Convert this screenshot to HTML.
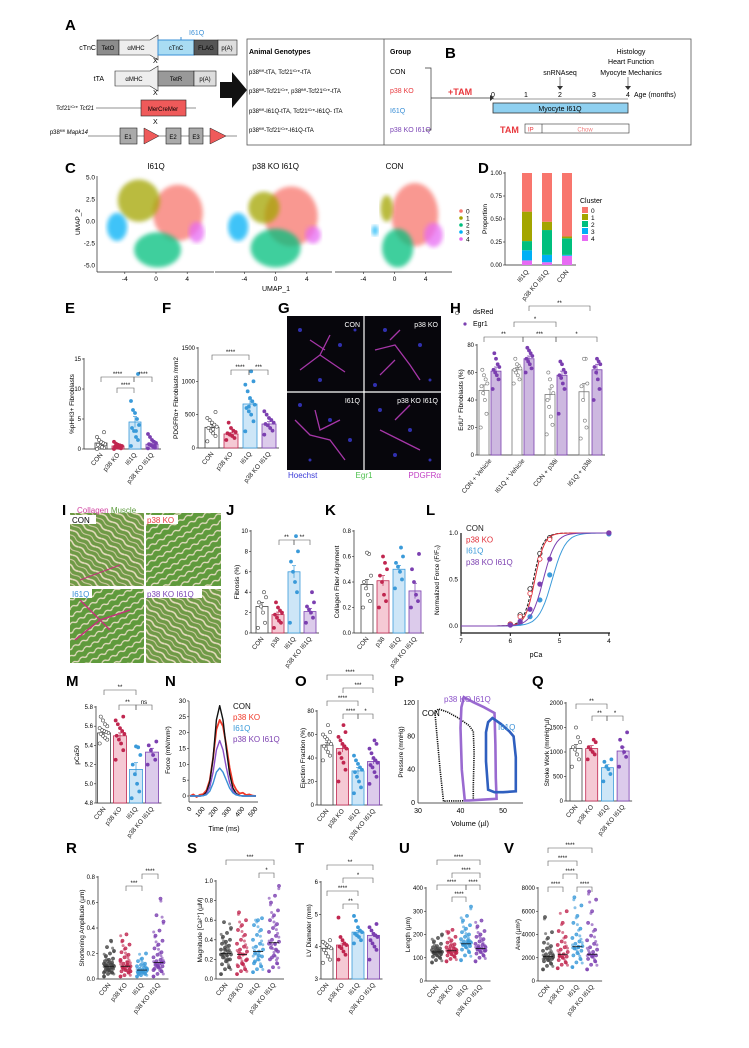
<!DOCTYPE html>
<html><head><meta charset="utf-8"><style>
html,body{margin:0;padding:0;background:#fff}
svg{display:block;font-family:"Liberation Sans",sans-serif}
.pl{font-weight:bold;font-size:15px}
.t{font-size:7px}
.s{font-size:6px}
</style></head><body>
<svg id="fig" width="749" height="1048" viewBox="0 0 749 1048">
<defs>
<pattern id="musc" width="14" height="10" patternUnits="userSpaceOnUse" patternTransform="rotate(35)">
<rect width="14" height="10" fill="#6f9a46"/><path d="M0 3 Q4 1 7 3 T14 3" stroke="#e8dcc0" stroke-width="1.6" fill="none"/><path d="M0 8 Q4 6 7 8 T14 8" stroke="#d9cfae" stroke-width="1" fill="none"/></pattern>
<pattern id="musc2" width="9" height="7" patternUnits="userSpaceOnUse" patternTransform="rotate(-30)">
<rect width="9" height="7" fill="#5f9a3c"/><path d="M0 2 Q3 0 5 2 T9 2" stroke="#e6dcc2" stroke-width="1.3" fill="none"/></pattern>
<filter id="bl"><feGaussianBlur stdDeviation="2"/></filter>
</defs>

<!-- Panel A -->
<g>
<text class="pl" x="65" y="30">A</text>
<text x="189" y="35" class="t" fill="#3a8fd6">I61Q</text>
<line x1="181" y1="37" x2="181" y2="40" stroke="#3a8fd6"/>
<text x="96" y="50" class="t" text-anchor="end">cTnC</text>
<rect x="97" y="40" width="22" height="15" fill="#8c8c8c" stroke="#222" stroke-width=".6"/><text x="108" y="50" class="s" text-anchor="middle">TetO</text>
<path d="M119 40 H150 L158 35 L158 60 L150 55 H119Z" fill="#eee" stroke="#222" stroke-width=".6"/><text x="136" y="50" class="s" text-anchor="middle">αMHC</text>
<rect x="158" y="40" width="36" height="15" fill="#a9dcf3" stroke="#3a8fd6" stroke-width="1"/><text x="176" y="50" class="s" text-anchor="middle">cTnC</text>
<rect x="194" y="40" width="24" height="15" fill="#555" stroke="#222" stroke-width=".6"/><text x="206" y="50" class="s" text-anchor="middle">FLAG</text>
<rect x="218" y="40" width="19" height="15" fill="#ddd" stroke="#222" stroke-width=".6"/><text x="227" y="50" class="s" text-anchor="middle">p(A)</text>
<text x="153" y="63" class="t">X</text>
<text x="104" y="81" class="t" text-anchor="end">tTA</text>
<path d="M115 71 H150 L158 66 L158 91 L150 86 H115Z" fill="#eee" stroke="#222" stroke-width=".6"/><text x="134" y="81" class="s" text-anchor="middle">αMHC</text>
<rect x="158" y="71" width="36" height="15" fill="#999" stroke="#222" stroke-width=".6"/><text x="176" y="81" class="s" text-anchor="middle">TetR</text>
<rect x="194" y="71" width="22" height="15" fill="#ddd" stroke="#222" stroke-width=".6"/><text x="205" y="81" class="s" text-anchor="middle">p(A)</text>
<text x="153" y="95" class="t">X</text>
<text x="94" y="110" class="s" text-anchor="end">Tcf21<tspan baseline-shift="super" font-size="4">iCre</tspan> <tspan font-style="italic">Tcf21</tspan></text>
<line x1="96" y1="108" x2="196" y2="108" stroke="#222" stroke-width=".6"/>
<rect x="141" y="100" width="45" height="16" fill="#ef5a5a" stroke="#222" stroke-width=".6"/><text x="163" y="111" class="s" text-anchor="middle">MerCreMer</text>
<text x="153" y="124" class="t">X</text>
<text x="88" y="134" class="s" text-anchor="end">p38<tspan baseline-shift="super" font-size="4">fl/fl</tspan> <tspan font-style="italic">Mapk14</tspan></text>
<line x1="88" y1="136" x2="237" y2="136" stroke="#222" stroke-width=".6"/>
<rect x="120" y="128" width="17" height="16" fill="#aaa" stroke="#222" stroke-width=".6"/><text x="128" y="139" class="s" text-anchor="middle">E1</text>
<path d="M144 128 L159 136 L144 144Z" fill="#ef5a5a" stroke="#222" stroke-width=".5"/>
<rect x="166" y="128" width="15" height="16" fill="#aaa" stroke="#222" stroke-width=".6"/><text x="173" y="139" class="s" text-anchor="middle">E2</text>
<rect x="189" y="128" width="14" height="16" fill="#aaa" stroke="#222" stroke-width=".6"/><text x="196" y="139" class="s" text-anchor="middle">E3</text>
<path d="M210 128 L226 136 L210 144Z" fill="#ef5a5a" stroke="#222" stroke-width=".5"/>
<path d="M220 82 H232 V72 L247 90 L232 108 V98 H220Z" fill="#111"/>
</g>
<g>
<rect x="247" y="39" width="444" height="106" fill="none" stroke="#555" stroke-width=".8"/>
<line x1="384" y1="39" x2="384" y2="145" stroke="#555" stroke-width=".8"/>
<text x="249" y="54" class="t" font-weight="bold">Animal Genotypes</text>
<text x="390" y="54" class="t" font-weight="bold">Group</text>
<text x="249" y="74" class="s">p38<tspan baseline-shift="super" font-size="4">fl/fl</tspan>-tTA, Tcf21<tspan baseline-shift="super" font-size="4">iCre</tspan>-tTA</text>
<text x="249" y="93" class="s">p38<tspan baseline-shift="super" font-size="4">fl/fl</tspan>-Tcf21<tspan baseline-shift="super" font-size="4">iCre</tspan>, p38<tspan baseline-shift="super" font-size="4">fl/fl</tspan>-Tcf21<tspan baseline-shift="super" font-size="4">iCre</tspan>-tTA</text>
<text x="249" y="113" class="s">p38<tspan baseline-shift="super" font-size="4">fl/fl</tspan>-I61Q-tTA, Tcf21<tspan baseline-shift="super" font-size="4">iCre</tspan>-I61Q- tTA</text>
<text x="249" y="132" class="s">p38<tspan baseline-shift="super" font-size="4">fl/fl</tspan>-Tcf21<tspan baseline-shift="super" font-size="4">iCre</tspan>-I61Q-tTA</text>
<text x="390" y="74" class="t">CON</text>
<text x="390" y="93" class="t" fill="#e8383d">p38 KO</text>
<text x="390" y="113" class="t" fill="#3a8fd6">I61Q</text>
<text x="390" y="132" class="t" fill="#7b45b5">p38 KO I61Q</text>
<path d="M425 68 H431 V130 H426" fill="none" stroke="#333" stroke-width=".7"/>
<path d="M431 98 H490" stroke="#333" stroke-width=".7"/><path d="M490 95 L494 98 L490 101Z" fill="#333"/>
<text x="448" y="95" font-size="9" font-weight="bold" fill="#e8383d">+TAM</text>
<text class="pl" x="445" y="58">B</text>
<line x1="493" y1="99" x2="628" y2="99" stroke="#333" stroke-width=".6"/>
<text x="493" y="97" class="t" text-anchor="middle">0</text><text x="526" y="97" class="t" text-anchor="middle">1</text><text x="560" y="97" class="t" text-anchor="middle">2</text><text x="594" y="97" class="t" text-anchor="middle">3</text><text x="628" y="97" class="t" text-anchor="middle">4</text>
<text x="634" y="97" class="t">Age (months)</text>
<rect x="493" y="103" width="135" height="10" fill="#8fd0f0" stroke="#333" stroke-width=".8"/>
<text x="560" y="111" class="t" text-anchor="middle">Myocyte I61Q</text>
<text x="560" y="75" class="t" text-anchor="middle">snRNAseq</text><path d="M560 77 V88" stroke="#333" stroke-width=".6"/><path d="M557 86 L560 90 L563 86Z" fill="#333"/>
<text x="631" y="54" class="t" text-anchor="middle">Histology</text><text x="631" y="64" class="t" text-anchor="middle">Heart Function</text><text x="631" y="75" class="t" text-anchor="middle">Myocyte Mechanics</text>
<path d="M628 77 V88" stroke="#333" stroke-width=".6"/><path d="M625 86 L628 90 L631 86Z" fill="#333"/>
<text x="500" y="133" font-size="9" font-weight="bold" fill="#e8383d">TAM</text>
<rect x="525" y="124" width="104" height="9" fill="#fff" stroke="#333" stroke-width=".6"/><line x1="542" y1="124" x2="542" y2="133" stroke="#333" stroke-width=".6"/>
<text x="528" y="131.5" class="s" fill="#e8383d">IP</text><text x="585" y="131.5" class="s" fill="#f08080" text-anchor="middle">Chow</text>
</g>

<text class="pl" x="65" y="173">C</text>
<text class="pl" x="478" y="173">D</text>
<text class="pl" x="65" y="313">E</text>
<text class="pl" x="162" y="313">F</text>
<text class="pl" x="278" y="313">G</text>
<text class="pl" x="450" y="313">H</text>
<text class="pl" x="62" y="515">I</text>
<text class="pl" x="226" y="515">J</text>
<text class="pl" x="325" y="515">K</text>
<text class="pl" x="426" y="515">L</text>
<text class="pl" x="66" y="686">M</text>
<text class="pl" x="165" y="686">N</text>
<text class="pl" x="295" y="686">O</text>
<text class="pl" x="394" y="686">P</text>
<text class="pl" x="532" y="686">Q</text>
<text class="pl" x="66" y="853">R</text>
<text class="pl" x="187" y="853">S</text>
<text class="pl" x="295" y="853">T</text>
<text class="pl" x="399" y="853">U</text>
<text class="pl" x="504" y="853">V</text>

<!-- G images -->
<g>
<rect x="287" y="316" width="154" height="154" fill="#07060c"/>
<line x1="364" y1="316" x2="364" y2="470" stroke="#fff" stroke-width="1.2"/><line x1="287" y1="392" x2="441" y2="392" stroke="#fff" stroke-width="1.2"/>
<g stroke="#c23fc4" stroke-width="1.3" fill="none" opacity=".85">
<path d="M300 370 L320 355 L330 335 M320 355 L345 372 M310 340 L325 350"/>
<path d="M375 350 L395 345 L410 365 L420 380 M390 340 L400 330 M380 375 L395 360"/>
<path d="M295 420 L310 435 L330 440 L345 460 M315 410 L320 430 L340 420"/>
<path d="M380 430 L400 440 L420 450 M395 420 L410 405"/>
</g>
<g fill="#3b3bd8" opacity=".8"><circle cx="300" cy="330" r="2"/><circle cx="340" cy="345" r="2"/><circle cx="320" cy="380" r="2"/><circle cx="355" cy="330" r="1.5"/><circle cx="385" cy="330" r="2"/><circle cx="420" cy="345" r="2"/><circle cx="430" cy="380" r="1.5"/><circle cx="375" cy="385" r="2"/><circle cx="300" cy="405" r="2"/><circle cx="330" cy="420" r="2"/><circle cx="350" cy="440" r="2"/><circle cx="310" cy="460" r="1.5"/><circle cx="380" cy="410" r="2"/><circle cx="410" cy="430" r="2"/><circle cx="430" cy="460" r="1.5"/><circle cx="395" cy="455" r="2"/></g>
<text x="360" y="327" class="t" fill="#fff" text-anchor="end" font-size="8">CON</text>
<text x="438" y="327" class="t" fill="#fff" text-anchor="end" font-size="8">p38 KO</text>
<text x="360" y="403" class="t" fill="#fff" text-anchor="end" font-size="8">I61Q</text>
<text x="438" y="403" class="t" fill="#fff" text-anchor="end" font-size="8">p38 KO I61Q</text>
<text x="288" y="478" font-size="8" fill="#3b3bd8">Hoechst</text>
<text x="364" y="478" font-size="8" fill="#4cc04c" text-anchor="middle">Egr1</text>
<text x="441" y="478" font-size="8" fill="#c23fc4" text-anchor="end">PDGFRα</text>
</g>

<!-- I images -->
<g>
<rect x="70" y="513" width="74" height="73" fill="url(#musc)"/>
<rect x="146" y="513" width="75" height="73" fill="url(#musc2)"/>
<rect x="70" y="589" width="74" height="74" fill="url(#musc2)"/>
<rect x="146" y="589" width="75" height="74" fill="url(#musc)"/>
<path d="M75 640 L100 620 L130 610 M80 600 L110 630" stroke="#c2337a" stroke-width="1.5" fill="none"/>
<path d="M80 580 L120 565" stroke="#c2337a" stroke-width="1" fill="none"/>
<text x="77" y="513" font-size="8" fill="#d040a0">Collagen <tspan fill="#5a9a3a">Muscle</tspan></text>
<rect x="70" y="515" width="26" height="9" fill="#fff"/><text x="72" y="523" font-size="8">CON</text>
<rect x="146" y="515" width="32" height="9" fill="#fff"/><text x="147" y="523" font-size="8" fill="#e8383d">p38 KO</text>
<rect x="70" y="589" width="22" height="9" fill="#fff"/><text x="72" y="597" font-size="8" fill="#3a8fd6">I61Q</text>
<rect x="146" y="589" width="56" height="9" fill="#fff"/><text x="147" y="597" font-size="8" fill="#7b45b5">p38 KO I61Q</text>
</g>
<g id="dyn"></g>
</svg>
<script>
// ===== data =====
const groups=['CON','p38 KO','I61Q','p38 KO I61Q'];
const clusterNames=['0','1','2','3','4'];
const clusterColors=['#f8766d','#a3a500','#00bf7d','#00b0f6','#e76bf3'];
const propI61Q=[0.42,0.32,0.10,0.11,0.05];
const propKO=[0.53,0.09,0.27,0.08,0.03];
const propCON=[0.69,0.02,0.18,0.01,0.10];
// UMAP cluster centers (x,y,rx,ry) in UMAP units per sample
const umapI61Q=[[2.8,1.0,3.2,3.2],[-2.2,2.4,2.7,2.4],[0.2,-3.2,3.0,2.0],[-5.0,-0.6,1.3,1.6],[5.2,-1.2,1.0,1.2]];
const umapKO=[[2.0,0.6,3.4,3.4],[-1.5,1.6,2.0,1.8],[0.0,-3.0,3.2,2.2],[-4.8,-0.6,1.3,1.6],[4.8,-1.5,1.0,1.0]];
const umapCON=[[2.6,0.8,3.0,3.6],[-1.0,1.5,0.8,1.5],[0.4,-3.0,2.0,2.2],[-2.5,-1.0,0.4,0.6],[5.0,-1.5,1.2,1.4]];

const eVals=[1.0,0.5,4.5,0.8], eSem=[0.2,0.1,0.9,0.2];
const ePts=[[0,0.2,0.4,0.5,0.7,0.8,1,1.2,1.5,2,2.8,0.3],[0,0.1,0.2,0.3,0.4,0.5,0.6,0.7,0.9,1.2],[0.5,1.5,2,3,3.5,4,5,6,6.5,8,12.5,3],[0.1,0.2,0.4,0.6,0.8,1,1.2,1.5,2,2.5,0.5]];
const fVals=[310,210,660,360], fSem=[40,20,70,35];
const fPts=[[100,180,220,260,300,320,350,380,420,450,540,280],[120,150,180,200,220,240,260,300,380],[250,400,500,550,600,650,700,750,850,950,1000,1150,620],[200,260,300,340,360,380,420,450,500,550]];
const hCats=['CON + Vehicle','I61Q + Vehicle','CON + p38i','I61Q + p38i'];
const hVals=[47,61,62,70,44,58,46,62], hSem=[4,3,1.5,2,4,3,6,4];
const hPts=[[20,30,40,45,50,52,55,58,62],[48,55,58,60,62,64,66,70,74],[52,55,58,60,62,63,65,66,70],[60,63,66,68,70,72,74,76,78],[15,22,28,35,40,45,50,55,60],[30,48,52,56,58,60,62,66,68],[12,20,25,40,50,52,70,70],[40,48,55,60,64,66,68,70]];
const jVals=[2.6,1.8,6.0,2.1], jSem=[0.4,0.25,0.6,0.3];
const jPts=[[0.5,1,2,2.6,3,3.5,4],[0.5,1,1.2,1.5,1.8,2,2.2,2.5,3],[1,4,5,6,7,8,9.5],[1,1.5,2,2.3,2.6,3,4]];
const kVals=[0.38,0.41,0.50,0.33], kSem=[0.04,0.04,0.03,0.06];
const kPts=[[0.2,0.25,0.3,0.35,0.4,0.45,0.62,0.63],[0.2,0.25,0.3,0.4,0.45,0.5,0.55,0.6],[0.35,0.42,0.48,0.52,0.55,0.6,0.67],[0.2,0.25,0.3,0.4,0.5,0.62]];
const mVals=[5.53,5.50,5.15,5.33], mSem=[0.02,0.03,0.07,0.04];
const mPts=[[5.42,5.46,5.48,5.5,5.52,5.53,5.54,5.55,5.56,5.58,5.6,5.62,5.66,5.7],[5.25,5.35,5.42,5.46,5.5,5.52,5.55,5.58,5.62,5.66,5.7],[4.85,4.92,5.0,5.1,5.2,5.3,5.38,5.39],[5.2,5.25,5.3,5.35,5.4,5.44]];
const oVals=[51,48,29,37], oSem=[2,3,3,2];
const oPts=[[38,42,45,48,50,52,54,56,58,60,62,68],[20,30,36,40,44,48,50,52,55,58,62,68],[10,15,20,24,28,30,32,35,38,42],[18,24,28,32,34,36,38,40,44,48,52,55]];
const qVals=[1070,1070,680,1020], qSem=[80,60,60,80];
const qPts=[[700,850,950,1050,1100,1200,1300,1500],[850,950,1000,1050,1100,1200,1250],[400,550,650,700,800,850],[700,900,1000,1100,1250,1400]];
const tVals=[3.95,4.05,4.45,4.35], tSem=[0.05,0.06,0.05,0.05];
const tPts=[[3.5,3.6,3.7,3.8,3.9,3.95,4,4.05,4.1,4.15,4.2],[3.6,3.75,3.85,3.95,4,4.05,4.1,4.2,4.3,4.9],[4.1,4.2,4.3,4.35,4.4,4.45,4.5,4.6,4.8,4.95],[3.6,3.9,4.0,4.1,4.2,4.3,4.35,4.4,4.5,4.6,4.7]];
const rPts=[[0.02,0.04,0.05,0.06,0.07,0.08,0.08,0.09,0.1,0.1,0.11,0.12,0.12,0.13,0.14,0.15,0.16,0.18,0.2,0.22,0.25,0.3,0.05,0.07,0.09,0.11],[0.02,0.03,0.05,0.06,0.07,0.08,0.09,0.1,0.1,0.12,0.13,0.15,0.17,0.19,0.21,0.24,0.27,0.3,0.35,0.06,0.08,0.11,0.14],[0.02,0.03,0.04,0.05,0.05,0.06,0.06,0.07,0.07,0.08,0.09,0.1,0.11,0.12,0.14,0.16,0.2,0.04,0.06,0.08],[0.02,0.04,0.06,0.08,0.09,0.1,0.11,0.12,0.13,0.14,0.15,0.17,0.19,0.21,0.24,0.27,0.3,0.34,0.38,0.45,0.5,0.63,0.07,0.1,0.13]];
const rMed=[0.1,0.1,0.07,0.13];
const sPts=[[0.05,0.1,0.12,0.15,0.18,0.2,0.22,0.24,0.25,0.26,0.28,0.3,0.32,0.34,0.36,0.38,0.4,0.43,0.47,0.52,0.58,0.2,0.25,0.3],[0.05,0.08,0.1,0.13,0.16,0.19,0.22,0.25,0.28,0.3,0.33,0.36,0.4,0.45,0.5,0.55,0.6,0.68,0.15,0.2,0.26],[0.07,0.1,0.13,0.16,0.2,0.23,0.26,0.28,0.3,0.33,0.36,0.4,0.45,0.5,0.55,0.6,0.62,0.18,0.24],[0.08,0.12,0.16,0.2,0.24,0.28,0.32,0.36,0.38,0.4,0.44,0.48,0.52,0.56,0.6,0.65,0.7,0.78,0.85,0.95,0.22,0.3,0.36]];
const sMed=[0.26,0.25,0.28,0.37];
const uPts=[[80,90,100,105,110,115,120,122,125,128,130,133,136,140,145,150,160,170,185,200,118,126],[85,95,105,110,115,120,125,128,132,136,140,145,150,158,165,175,190,210,220,122,130],[90,110,125,135,145,150,155,160,165,170,175,180,190,200,210,225,240,260,280,320,158,168],[85,100,110,118,125,130,135,140,145,150,155,160,170,180,190,200,215,235,260,132,142]];
const uMed=[125,130,160,140];
const vPts=[[1000,1300,1500,1700,1800,1900,2000,2100,2200,2300,2400,2600,2800,3000,3300,3700,4200,5500,1950,2050],[1100,1400,1600,1800,2000,2100,2200,2300,2500,2700,2900,3100,3400,3800,4300,5000,6000,2150],[1200,1600,1900,2200,2400,2600,2800,2900,3000,3200,3400,3700,4000,4500,5000,5600,6500,7200,2950],[1000,1400,1700,1900,2100,2200,2300,2500,2700,2900,3200,3500,3900,4400,5000,6000,7000,7700,2250]];
const vMed=[2100,2300,2950,2300];
const lPca=[6.0,5.8,5.6,5.4,5.2,4.0];
const lPts=[[0.02,0.12,0.40,0.78,0.95,1.0],[0.02,0.10,0.35,0.72,0.93,1.0],[0.01,0.03,0.10,0.28,0.55,0.99],[0.01,0.05,0.18,0.45,0.72,1.0]];
const lPca50=[5.53,5.50,5.15,5.33], lHill=[4.5,4.5,3.2,3.5];
const nTime=[0,25,50,75,100,125,150,175,200,225,250,275,300,325,350,375,400,425,450,475,500];
const nCON=[0,0,0,0,0.2,1.2,4.5,12,24,28.5,24,15,7,2.5,0.8,0.2,0,0,0,0,0];
const nKO=[0,0.5,-0.3,0.4,0.6,1.8,5,12,21,24,22,16,9,4,2,0.8,1,0.3,0.5,0.1,0];
const nI61Q=[0,0,0,0,0.1,0.4,1.5,4,7.5,8.8,7.5,5,2.5,1,0.3,0.1,0,0,0,0,0];
const nKOI=[0,0,0,0,0.1,0.7,2.8,7.5,14.5,17.5,14.5,9,4.2,1.5,0.5,0.1,0,0,0,0,0];
const pCON=[[36,2],[35.2,40],[34.3,90],[34,108],[34.8,113],[37,109],[39.5,102],[42,93],[43,86],[43.2,60],[43,20],[43,3],[40,2.5],[37,2.5],[36,2]];
const pKOI=[[41,3],[40.3,40],[40,90],[40.2,115],[40.8,127],[43,121],[45.5,115],[48,108],[48.2,70],[48.3,30],[48.5,5],[45,4],[42,3],[41,3]];
const pI61Q=[[46.5,16],[46,50],[46,85],[46.5,97],[47.5,102],[49.5,95],[51.5,86],[52.5,80],[53,55],[53,30],[53,14],[50,13],[48,13],[46.5,16]];

// ===== helpers =====
const NS='http://www.w3.org/2000/svg';
const root=document.getElementById('dyn');
function mk(tag,attrs,parent){const e=document.createElementNS(NS,tag);for(const k in attrs)e.setAttribute(k,attrs[k]);(parent||root).appendChild(e);return e;}
function txt(x,y,s,size,anchor,parent,extra){const e=mk('text',Object.assign({x:x,y:y,'font-size':size||6,'text-anchor':anchor||'start'},extra||{}),parent);e.textContent=s;return e;}
const dark=['#444','#c0264f','#3a9ad9','#7b3fb0'];
const light=['#ffffff','#f5c9d4','#cde6f7','#dccbeb'];

function axisY(g,ax,y0,y1,vmin,vmax,ticks,labels){
  mk('line',{x1:ax,y1:y0,x2:ax,y2:y1-1,stroke:'#222','stroke-width':0.7},g);
  ticks.forEach((t,i)=>{const y=y0-(t-vmin)/(vmax-vmin)*(y0-y1);
    mk('line',{x1:ax-2,y1:y,x2:ax,y2:y,stroke:'#222','stroke-width':0.6},g);
    const tl=txt(ax-3,y+2,labels?labels[i]:String(t),6,'end',g);
    
    });
}
function cats(g,xs,y,names,colors){names.forEach((n,i)=>{const t=txt(xs[i]+2,y,n,6.5,'end',g,{transform:'rotate(-50 '+(xs[i]+2)+' '+y+')',fill:colors?colors[i]:'#222'});
  
  });}
function ylab(g,x,y,s){const t=txt(x,y,s,6.5,'middle',g,{transform:'rotate(-90 '+x+' '+y+')'});
  
  }
function sig(g,list){list.forEach(b=>{const [x1,x2,y,lab]=b;
  const p=mk('path',{d:'M'+x1+' '+(y+5)+'V'+y+'H'+x2+'V'+(y+5),fill:'none',stroke:'#555','stroke-width':0.6},g);
  
  
  txt((x1+x2)/2,y-1,lab,6,'middle',g);});}

function barChart(c){
  const g=mk('g',{});
  
  
  const ys=v=>c.y0-(v-c.vmin)/(c.vmax-c.vmin)*(c.y0-c.y1);
  axisY(g,c.ax,c.y0,c.y1,c.vmin,c.vmax,c.ticks,c.tl);
  const xs=c.xs;const bw=c.bw;
  mk('line',{x1:c.ax,y1:c.y0,x2:xs[xs.length-1]+bw/2+3,y2:c.y0,stroke:'#222','stroke-width':0.7},g);
  c.vals.forEach((v,i)=>{
    const fl=c.fills?c.fills[i]:light[i], st=c.strokes?c.strokes[i]:dark[i];
    const r=mk('rect',{x:xs[i]-bw/2,y:ys(v),width:bw,height:c.y0-ys(v),fill:fl,stroke:st,'stroke-width':0.8},g);
    
    
    mk('line',{x1:xs[i],y1:ys(v+c.sem[i]),x2:xs[i],y2:ys(v-c.sem[i]),stroke:st,'stroke-width':0.7},g);
    mk('line',{x1:xs[i]-2,y1:ys(v+c.sem[i]),x2:xs[i]+2,y2:ys(v+c.sem[i]),stroke:st,'stroke-width':0.7},g);
    c.pts[i].forEach((p,k)=>{const jx=((k*7)%9-4)*bw/12;
      const open=c.open?c.open[i]:(i===0);
      const d=mk('circle',{cx:xs[i]+jx,cy:ys(p),r:1.6,fill:open?'#fff':st,stroke:st,'stroke-width':0.6},g);
      
      });
  });
  cats(g,c.catXs||xs,c.y0+6,c.cats||groups);
  ylab(g,c.ax-c.yoff,(c.y0+c.y1)/2,c.ylabel);
  if(c.sig)sig(g,c.sig);
  return g;
}
function swarm(c){
  const g=mk('g',{});
  
  
  const ys=v=>c.y0-(v-c.vmin)/(c.vmax-c.vmin)*(c.y0-c.y1);
  axisY(g,c.ax,c.y0,c.y1,c.vmin,c.vmax,c.ticks,c.tl);
  mk('line',{x1:c.ax,y1:c.y0,x2:c.xs[3]+10,y2:c.y0,stroke:'#222','stroke-width':0.7},g);
  c.pts.forEach((arr,i)=>{
    // dense core under points
    arr.forEach((p,k)=>{const jx=((k*37)%11-5)*1.0;
      const d=mk('circle',{cx:c.xs[i]+jx,cy:ys(p),r:1.7,fill:dark[i],'fill-opacity':0.8,stroke:dark[i],'stroke-width':0.4},g);
      
      });
    arr.forEach((p,k)=>{const jx=((k*53)%9-4)*1.2;
      const d=mk('circle',{cx:c.xs[i]+jx,cy:ys(p*0.97),r:1.5,fill:dark[i],'fill-opacity':0.6},g);
      
      });
    const m=mk('line',{x1:c.xs[i]-5,y1:ys(c.med[i]),x2:c.xs[i]+5,y2:ys(c.med[i]),stroke:'#111','stroke-width':0.8},g);
    
    
  });
  cats(g,c.xs,c.y0+6,groups);
  ylab(g,c.ax-c.yoff,(c.y0+c.y1)/2,c.ylabel);
  if(c.sig)sig(g,c.sig);
}
const seq=(a,s,n)=>Array.from({length:n},(_,i)=>a+s*i);

// ===== UMAP (C) =====
const umapSets=[[umapI61Q,156,'I61Q',97],[umapKO,275.6,'p38 KO I61Q',215],[umapCON,394.5,'CON',335]];
umapSets.forEach((s,pi)=>{
  const g=mk('g',{});
  
  
  const sx=u=>s[1]+u*7.8, sy=u=>221.7-u*8.8;
  txt(s[1],169,s[2],8,'middle',g);
  mk('line',{x1:s[3],y1:272,x2:s[3]+117,y2:272,stroke:'#222','stroke-width':0.7},g);
  [-4,0,4].forEach(t=>{mk('line',{x1:sx(t),y1:272,x2:sx(t),y2:274,stroke:'#222','stroke-width':.6},g);txt(sx(t),281,String(t),6.5,'middle',g);});
  [0,1,2,3,4].forEach(ci=>{const d=s[0][ci];
    const e=mk('ellipse',{cx:sx(d[0]),cy:sy(d[1]),rx:d[2]*7.8,ry:d[3]*8.8,fill:clusterColors[ci],opacity:0.75,filter:'url(#bl)'},g);
    
    });
  if(pi===0){mk('line',{x1:97,y1:176,x2:97,y2:272,stroke:'#222','stroke-width':0.7},g);
    [5,2.5,0,-2.5,-5].forEach(t=>{txt(95,sy(t)+2,t.toFixed(1),6.5,'end',g);});
    ylab(g,80,222,'UMAP_2');}
});
txt(276,291,'UMAP_1',7,'middle');
clusterNames.forEach((n,i)=>{const c=mk('circle',{cx:461,cy:211+i*7,r:1.8,fill:clusterColors[i]});
  
  
  txt(466,213.5+i*7,n,6.5);});

// ===== D stacked =====
(function(){const g=mk('g',{});
  
  
  const ys=v=>265-v*92;
  axisY(g,505,265,173,0,1,[0,0.25,0.5,0.75,1],['0.00','0.25','0.50','0.75','1.00']);
  mk('line',{x1:505,y1:265,x2:576,y2:265,stroke:'#222','stroke-width':.7},g);
  const sets=[propI61Q,propKO,propCON],xs=[527,547,567];
  sets.forEach((p,i)=>{let acc=0;
    for(let ci=4;ci>=0;ci--){const r=mk('rect',{x:xs[i]-5,y:ys(acc+p[ci]),width:10,height:p[ci]*92,fill:clusterColors[ci]},g);
      
      
      acc+=p[ci];}});
  cats(g,xs,272,['I61Q','p38 KO I61Q','CON']);
  ylab(g,487,219,'Proportion');
  txt(580,203,'Cluster',7,'start',g);
  clusterNames.forEach((n,i)=>{mk('rect',{x:582,y:207+i*7,width:6,height:6,fill:clusterColors[i]},g);txt(591,213+i*7,n,6.5,'start',g);});
})();

// ===== bar charts =====
barChart({name:'panel-e-chart',ax:84,y0:449,y1:359,vmin:0,vmax:15,ticks:[0,5,10,15],xs:seq(101,17,4),bw:12,vals:eVals,sem:eSem,pts:ePts,ylabel:'%pHH3+ Fibroblasts',yoff:10,
  sig:[[101,134,377,'****'],[117,134,388,'****'],[134,152,377,'****']]});
barChart({name:'panel-f-chart',ax:198,y0:448,y1:348,vmin:0,vmax:1500,ticks:[0,500,1000,1500],xs:seq(212,19,4),bw:14,vals:fVals,sem:fSem,pts:fPts,ylabel:'PDGFRα+ Fibroblasts /mm2',yoff:20,
  sig:[[212,249,355,'****'],[231,249,370,'****'],[249,268,370,'***']]});
barChart({name:'panel-h-chart',ax:477,y0:455,y1:345,vmin:0,vmax:80,ticks:[0,20,40,60,80],xs:[484,496,517,529,550,562,584,597],bw:10,vals:hVals,sem:hSem,pts:hPts,
  fills:['#fff','#cdb8e0','#fff','#cdb8e0','#fff','#cdb8e0','#fff','#cdb8e0'],strokes:['#777','#7b3fb0','#777','#7b3fb0','#777','#7b3fb0','#777','#7b3fb0'],
  open:[true,false,true,false,true,false,true,false],catXs:[490,523,556,590],cats:hCats,ylabel:'EdU⁺ Fibroblasts (%)',yoff:14,
  sig:[[484,523,337,'**'],[523,556,337,'***'],[556,597,337,'*'],[514,556,322,'*'],[529,590,306,'**']]});
mk('circle',{cx:457,cy:313,r:1.6,fill:'#fff',stroke:'#555','stroke-width':.6});txt(473,314,'dsRed',7);
mk('circle',{cx:465,cy:324,r:1.6,fill:'#7b3fb0'});txt(473,326,'Egr1',7);
barChart({name:'panel-j-chart',ax:251,y0:633,y1:531,vmin:0,vmax:10,ticks:[0,2,4,6,8,10],xs:seq(262,16,4),bw:12,vals:jVals,sem:jSem,pts:jPts,cats:['CON','p38','I61Q','p38 KO I61Q'],ylabel:'Fibrosis (%)',yoff:12,
  sig:[[279,294,540,'**'],[294,310,540,'**']]});
barChart({name:'panel-k-chart',ax:354,y0:633,y1:531,vmin:0,vmax:0.8,ticks:[0,0.2,0.4,0.6,0.8],tl:['0.0','0.2','0.4','0.6','0.8'],xs:seq(367,16,4),bw:12,vals:kVals,sem:kSem,pts:kPts,cats:['CON','p38','I61Q','p38 KO I61Q'],ylabel:'Collagen Fiber Alignment',yoff:15});
barChart({name:'panel-m-chart',ax:96,y0:803,y1:707,vmin:4.8,vmax:5.8,ticks:[4.8,5.0,5.2,5.4,5.6,5.8],tl:['4.8','5.0','5.2','5.4','5.6','5.8'],xs:seq(104,16,4),bw:13,vals:mVals,sem:mSem,pts:mPts,ylabel:'pCa50',yoff:17,
  sig:[[104,136,690,'**'],[119,136,705,'**'],[136,152,705,'ns']]});
barChart({name:'panel-o-chart',ax:317,y0:805,y1:711,vmin:0,vmax:80,ticks:[0,20,40,60,80],xs:seq(327,15.5,4),bw:12,vals:oVals,sem:oSem,pts:oPts,ylabel:'Ejection Fraction (%)',yoff:12,
  sig:[[327,373,675,'****'],[343,373,688,'***'],[327,358,701,'****'],[343,358,714,'****'],[358,373,714,'*']]});
barChart({name:'panel-q-chart',ax:566,y0:801,y1:703,vmin:0,vmax:2000,ticks:[0,500,1000,1500,2000],xs:seq(576,15.7,4),bw:12,vals:qVals,sem:qSem,pts:qPts,ylabel:'Stroke Work (mmHg*µl)',yoff:17,
  sig:[[576,607,704,'**'],[592,607,716,'**'],[607,623,716,'*']]});
barChart({name:'panel-t-chart',ax:321,y0:979,y1:882,vmin:3,vmax:6,ticks:[3,4,5,6],xs:seq(327,15.5,4),bw:12,vals:tVals,sem:tSem,pts:tPts,ylabel:'LV Diameter (mm)',yoff:10,
  sig:[[327,373,865,'**'],[343,373,878,'*'],[327,358,891,'****'],[343,358,904,'**']]});

// ===== swarms =====
swarm({name:'panel-r-chart',ax:98,y0:979,y1:877,vmin:0,vmax:0.8,ticks:[0,0.2,0.4,0.6,0.8],tl:['0.0','0.2','0.4','0.6','0.8'],xs:seq(109,16.5,4),pts:rPts,med:rMed,ylabel:'Shortening Amplitude (µm)',yoff:14,
  sig:[[126,142,886,'***'],[142,158,874,'****']]});
swarm({name:'panel-s-chart',ax:216,y0:979,y1:881,vmin:0,vmax:1,ticks:[0,0.2,0.4,0.6,0.8,1.0],tl:['0.0','0.2','0.4','0.6','0.8','1.0'],xs:seq(226,16,4),pts:sPts,med:sMed,ylabel:'Magnitude [Ca²⁺] (µM)',yoff:14,
  sig:[[226,274,860,'***'],[259,274,873,'*']]});
swarm({name:'panel-u-chart',ax:426,y0:981,y1:888,vmin:0,vmax:400,ticks:[0,100,200,300,400],xs:seq(437,14.5,4),pts:uPts,med:uMed,ylabel:'Length (µm)',yoff:16,
  sig:[[437,480,860,'****'],[452,480,873,'****'],[437,466,885,'****'],[466,480,885,'****'],[452,466,897,'****']]});
swarm({name:'panel-v-chart',ax:538,y0:981,y1:888,vmin:0,vmax:8000,ticks:[0,2000,4000,6000,8000],xs:seq(548,14.7,4),pts:vPts,med:vMed,ylabel:'Area (µm²)',yoff:18,
  sig:[[548,592,848,'****'],[548,577,861,'****'],[563,577,874,'****'],[548,563,887,'****'],[577,592,887,'****']]});

// ===== L force-pCa =====
(function(){const g=mk('g',{});
  
  
  const xp=p=>461+(7-p)*49.3, yv=v=>626-v*93;
  mk('line',{x1:461,y1:533,x2:461,y2:633,stroke:'#111','stroke-width':1.2},g);
  mk('line',{x1:461,y1:633,x2:610,y2:633,stroke:'#111','stroke-width':1.2},g);
  [[0,'0.0'],[0.5,'0.5'],[1,'1.0']].forEach(t=>txt(458,yv(t[0])+2,t[1],6.5,'end',g));
  [7,6,5,4].forEach(t=>{mk('line',{x1:xp(t),y1:633,x2:xp(t),y2:636,stroke:'#111'},g);txt(xp(t),643,String(t),6.5,'middle',g);});
  txt(536,657,'pCa',7,'middle',g);ylab(g,439,580,'Normalized Force (F/F₀)');
  const lc=['#222','#e0303a','#3a9ad9','#7b3fb0'];
  lPca50.forEach((p50,i)=>{let d='';
    for(let p=7;p>=4;p-=0.05){const v=1/(1+Math.pow(10,lHill[i]*(p-p50)));d+=(d?'L':'M')+xp(p).toFixed(1)+' '+yv(v).toFixed(1);}
    const c=mk('path',{d:d,fill:'none',stroke:lc[i],'stroke-width':1,'stroke-dasharray':i===0?'3 1.5':'none'},g);
    
    
    lPts[i].forEach((v,k)=>{const pt=mk('circle',{cx:xp(lPca[k]),cy:yv(v),r:2.2,fill:i<2?'#fff':lc[i],stroke:lc[i],'stroke-width':0.8},g);
      
      });});
  ['CON','p38 KO','I61Q','p38 KO I61Q'].forEach((n,i)=>txt(466,531+i*11.3,n,8,'start',g,{fill:lc[i]}));
})();

// ===== N force transients =====
(function(){const g=mk('g',{});
  
  
  const xt=t=>190+t*0.132, yf=f=>796-f*3.17;
  mk('line',{x1:189,y1:701,x2:189,y2:802,stroke:'#222','stroke-width':.7},g);
  mk('line',{x1:189,y1:802,x2:258,y2:802,stroke:'#222','stroke-width':.7},g);
  [0,5,10,15,20,25,30].forEach(t=>{mk('line',{x1:187,y1:yf(t),x2:189,y2:yf(t),stroke:'#222','stroke-width':.6},g);txt(186,yf(t)+2,String(t),6.5,'end',g);});
  [0,100,200,300,400,500].forEach(t=>{txt(xt(t)+2,809,String(t),6.5,'end',g,{transform:'rotate(-50 '+(xt(t)+2)+' 809)'});});
  txt(224,831,'Time (ms)',7,'middle',g);ylab(g,170,750,'Force (mN/mm²)');
  const series=[[nKO,'#f03a2a',1.8],[nCON,'#111',1.4],[nKOI,'#8a4fc8',1.4],[nI61Q,'#3a8fd6',1.4]];
  series.forEach((s,i)=>{let d='';s[0].forEach((f,k)=>{d+=(k?'L':'M')+xt(nTime[k]).toFixed(1)+' '+yf(f).toFixed(1);});
    const p=mk('path',{d:d,fill:'none',stroke:s[1],'stroke-width':s[2],'stroke-linejoin':'round'},g);
    
    });
  [['CON','#111'],['p38 KO','#f03a2a'],['I61Q','#3a9ad9'],['p38 KO I61Q','#7b3fb0']].forEach((l,i)=>txt(233,709+i*11,l[0],8,'start',g,{fill:l[1]}));
})();

// ===== P PV loops =====
(function(){const g=mk('g',{});
  
  
  const xv=v=>418+(v-30)*4.25, yp=p=>803-p*0.833;
  mk('line',{x1:418,y1:700,x2:418,y2:803,stroke:'#222','stroke-width':.7},g);
  mk('line',{x1:418,y1:803,x2:523,y2:803,stroke:'#222','stroke-width':.7},g);
  [0,40,80,120].forEach(t=>txt(415,yp(t)+2,String(t),7,'end',g));
  [30,40,50].forEach(t=>txt(xv(t),813,String(t),7,'middle',g));
  txt(470,826,'Volume (µl)',7.5,'middle',g);ylab(g,403,752,'Pressure (mmHg)');
  const loops=[[pCON,'#111','#fff'],[pKOI,'#9a6ad0','#9a6ad0'],[pI61Q,'#2f5fbf','#2f5fbf']];
  loops.forEach((l,i)=>{let d='';l[0].forEach((q,k)=>{d+=(k?'L':'M')+xv(q[0]).toFixed(1)+' '+yp(q[1]).toFixed(1);});
    const p=mk('path',{d:d+'Z',fill:'none',stroke:l[1],'stroke-width':i===0?1.6:2.6,'stroke-dasharray':i===0?'1.2 1':'none'},g);
    
    });
  txt(422,716,'CON',8,'start',g);
  txt(444,702,'p38 KO I61Q',8,'start',g,{fill:'#8a4fc8'});
  txt(498,730,'I61Q',8,'start',g,{fill:'#3a8fd6'});
})();
</script>
</body></html>
